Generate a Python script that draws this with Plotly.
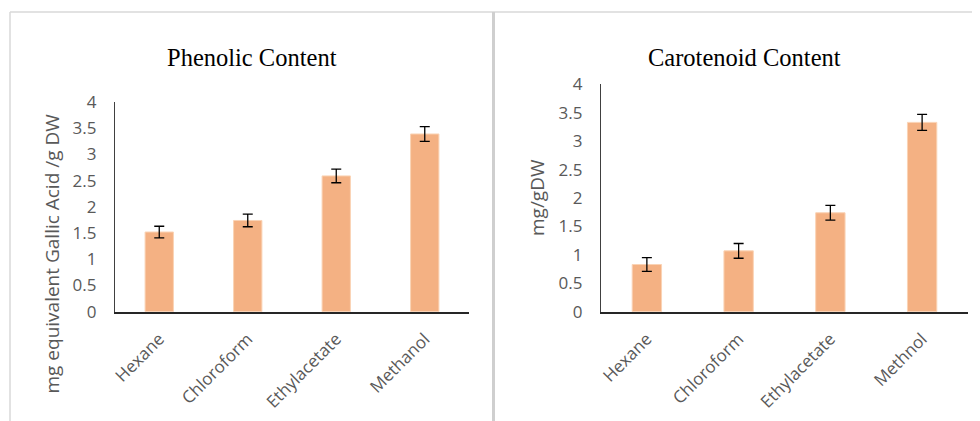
import plotly.graph_objects as go

# Data
categories_phenolic = ["Hexane", "Chloroform", "Ethylacetate", "Methanol"]
phenolic_values = [1.52, 1.74, 2.59, 3.39]
phenolic_errors = [0.11, 0.12, 0.13, 0.14]

categories_carotenoid = ["Hexane", "Chloroform", "Ethylacetate", "Methnol"]
carotenoid_values = [0.83, 1.07, 1.74, 3.33]
carotenoid_errors = [0.12, 0.13, 0.13, 0.14]

y_ticks = [0, 0.5, 1, 1.5, 2, 2.5, 3, 3.5, 4]
y_tick_text = ["0", "0.5", "1", "1.5", "2", "2.5", "3", "3.5", "4"]

W, H = 980, 421
OFF = 8  # page body margin offset
BAR = "#F4B183"
TXT = "#595959"
SANS = "Open Sans, Noto Sans, sans-serif"
SERIF = "Liberation Serif, Times New Roman, serif"
TICKFONT = dict(family=SANS, size=17, color=TXT)

fig = go.Figure()
fig.add_trace(go.Bar(
    x=categories_phenolic, y=phenolic_values,
    marker=dict(color=BAR, line=dict(color="#FAD3B5", width=1)),
    error_y=dict(type="data", array=phenolic_errors, color="#000000", thickness=1.3, width=5),
    xaxis="x", yaxis="y", showlegend=False))
fig.add_trace(go.Bar(
    x=categories_carotenoid, y=carotenoid_values,
    marker=dict(color=BAR, line=dict(color="#FAD3B5", width=1)),
    error_y=dict(type="data", array=carotenoid_errors, color="#000000", thickness=1.3, width=5),
    xaxis="x2", yaxis="y2", showlegend=False))


def px(x):
    return (x - OFF) / W


def py(y):
    return (H - (y - OFF)) / H


common_x = dict(showgrid=False, showline=True, linecolor="#262626", linewidth=1.5,
                ticks="", tickangle=-45, tickfont=TICKFONT, fixedrange=True,
                automargin=False, ticklabelstandoff=9)
common_y = dict(showgrid=False, showline=True, linecolor="#404040", linewidth=1.2,
                ticks="", range=[0, 4], tickvals=y_ticks, ticktext=y_tick_text,
                tickfont=TICKFONT, zeroline=False, ticklabelstandoff=14,
                automargin=False, fixedrange=True)

fig.update_layout(
    width=W, height=H,
    autosize=False,
    margin=dict(l=0, r=0, t=0, b=0, pad=0),
    paper_bgcolor="white", plot_bgcolor="white",
    bargap=0.68,
    xaxis=dict(domain=[px(115), px(469)], anchor="y", **common_x),
    yaxis=dict(domain=[py(311.7), py(102)], anchor="x", **common_y),
    xaxis2=dict(domain=[px(601), px(968)], anchor="y2", **common_x),
    yaxis2=dict(domain=[py(311.7), py(84.3)], anchor="x2", **common_y),
    annotations=[
        dict(text="Phenolic Content", x=px(251.5), y=py(58), xref="paper", yref="paper",
             showarrow=False, xanchor="center", yanchor="middle",
             font=dict(family=SERIF, size=24.5, color="#000000")),
        dict(text="Carotenoid Content", x=px(744), y=py(58), xref="paper", yref="paper",
             showarrow=False, xanchor="center", yanchor="middle",
             font=dict(family=SERIF, size=24.5, color="#000000")),
        dict(text="mg equivalent Gallic Acid /g DW", x=px(51), y=py(253.5),
             xref="paper", yref="paper", showarrow=False, textangle=-90,
             xanchor="center", yanchor="middle",
             font=dict(family=SANS, size=19, color=TXT)),
        dict(text="mg/gDW", x=px(537), y=py(198),
             xref="paper", yref="paper", showarrow=False, textangle=-90,
             xanchor="center", yanchor="middle",
             font=dict(family=SANS, size=19, color=TXT)),
    ],
    shapes=[
        dict(type="line", xref="paper", yref="paper", x0=px(10), x1=1.0, y0=py(12), y1=py(12),
             line=dict(color="#D9D9D9", width=1.5)),
        dict(type="line", xref="paper", yref="paper", x0=px(10), x1=px(10), y0=py(12), y1=0,
             line=dict(color="#D9D9D9", width=1.5)),
        dict(type="line", xref="paper", yref="paper", x0=px(493.5), x1=px(493.5), y0=py(12), y1=0,
             line=dict(color="#CFCFCF", width=3)),
    ],
)

fig.write_html("out.html")
